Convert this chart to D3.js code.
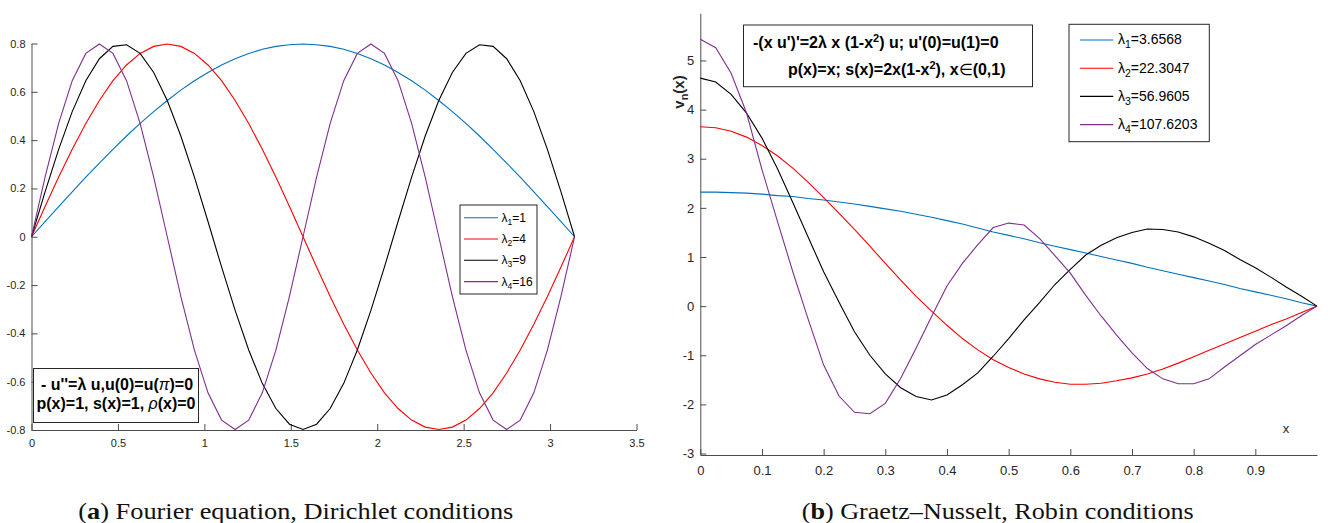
<!DOCTYPE html>
<html>
<head>
<meta charset="utf-8">
<script src="https://cdn.jsdelivr.net/npm/d3@7"></script>
<style>
  body { margin: 0; background: #fff; }
  svg { display: block; }
</style>
</head>
<body>
<div id="chart"></div>
<script>
// ---- data: (a) Fourier, Dirichlet ----
const xF = [0, 0.0785, 0.1571, 0.2356, 0.3142, 0.3927, 0.4712, 0.5498, 0.6283, 0.7069,
  0.7854, 0.8639, 0.9425, 1.0210, 1.0996, 1.1781, 1.2566, 1.3352, 1.4137, 1.4923,
  1.5708, 1.6493, 1.7279, 1.8064, 1.8850, 1.9635, 2.0420, 2.1206, 2.1991, 2.2777,
  2.3562, 2.4347, 2.5133, 2.5918, 2.6704, 2.7489, 2.8274, 2.9060, 2.9845, 3.0631, 3.1416];
const uF1 = [0, .063, .125, .186, .247, .305, .362, .417, .469, .518, .564, .607, .646, .680, .711, .737,
  .759, .776, .788, .795, .798, .795, .788, .776, .759, .737, .711, .680, .646, .607, .564, .518,
  .469, .417, .362, .305, .247, .186, .125, .063, 0];
const uF2 = [0, .125, .247, .362, .469, .564, .646, .711, .759, .788, .798, .788, .759, .711, .646, .564,
  .469, .362, .247, .125, 0, -.125, -.247, -.362, -.469, -.564, -.646, -.711, -.759, -.788, -.798,
  -.788, -.759, -.711, -.646, -.564, -.469, -.362, -.247, -.125, 0];
const uF3 = [0, .186, .362, .518, .646, .737, .788, .795, .759, .680, .564, .417, .247, .063, -.125, -.305,
  -.469, -.607, -.711, -.776, -.798, -.776, -.711, -.607, -.469, -.305, -.125, .063, .247, .417, .564,
  .680, .759, .795, .788, .737, .646, .518, .362, .186, 0];
const uF4 = [0, .247, .469, .646, .759, .798, .759, .646, .469, .247, 0, -.247, -.469, -.646, -.759, -.798,
  -.759, -.646, -.469, -.247, 0, .247, .469, .646, .759, .798, .759, .646, .469, .247, 0, -.247,
  -.469, -.646, -.759, -.798, -.759, -.646, -.469, -.247, 0];
const labelsF = ["1", "4", "9", "16"];
const xTicksF = [0, 0.5, 1, 1.5, 2, 2.5, 3, 3.5];
const yTicksF = [0.8, 0.6, 0.4, 0.2, 0, -0.2, -0.4, -0.6, -0.8];

// ---- data: (b) Graetz-Nusselt, Robin ----
const xG = [0, 0.025, 0.05, 0.075, 0.1, 0.125, 0.15, 0.175, 0.2, 0.225, 0.25, 0.275, 0.3, 0.325,
  0.35, 0.375, 0.4, 0.425, 0.45, 0.475, 0.5, 0.525, 0.55, 0.575, 0.6, 0.625, 0.65, 0.675, 0.7,
  0.725, 0.75, 0.775, 0.8, 0.825, 0.85, 0.875, 0.9, 0.925, 0.95, 0.975, 1];
const vG1 = [2.32, 2.32, 2.31, 2.30, 2.28, 2.25, 2.23, 2.19, 2.16, 2.12, 2.08, 2.03, 1.98, 1.93, 1.87,
  1.81, 1.74, 1.67, 1.59, 1.51, 1.44, 1.37, 1.29, 1.22, 1.15, 1.08, 1.01, 0.94, 0.87, 0.79, 0.72,
  0.65, 0.58, 0.51, 0.44, 0.36, 0.29, 0.22, 0.15, 0.07, 0];
const vG2 = [3.65, 3.63, 3.56, 3.44, 3.27, 3.06, 2.81, 2.52, 2.21, 1.89, 1.56, 1.22, 0.87, 0.53, 0.20,
  -0.10, -0.39, -0.66, -0.89, -1.09, -1.25, -1.38, -1.48, -1.55, -1.59, -1.59, -1.57, -1.52, -1.46,
  -1.38, -1.28, -1.16, -1.03, -0.90, -0.77, -0.64, -0.51, -0.38, -0.26, -0.13, 0];
const vG3 = [4.64, 4.56, 4.31, 3.93, 3.42, 2.80, 2.11, 1.40, 0.70, 0.08, -0.52, -1.00, -1.38, -1.66,
  -1.84, -1.91, -1.81, -1.60, -1.36, -1.02, -0.66, -0.28, 0.07, 0.44, 0.75, 1.04, 1.24, 1.39, 1.50,
  1.57, 1.56, 1.51, 1.41, 1.28, 1.13, 0.95, 0.78, 0.59, 0.39, 0.20, 0];
const vG4 = [5.43, 5.26, 4.74, 3.93, 2.78, 1.73, 0.70, -0.27, -1.20, -1.83, -2.16, -2.19, -1.98, -1.47,
  -0.85, -0.21, 0.41, 0.87, 1.25, 1.60, 1.69, 1.65, 1.38, 1.03, 0.67, 0.22, -0.20, -0.59, -0.95,
  -1.27, -1.48, -1.58, -1.58, -1.48, -1.24, -1.01, -0.78, -0.59, -0.40, -0.19, 0];
const labelsG = ["3.6568", "22.3047", "56.9605", "107.6203"];
const xTicksG = [0, 0.1, 0.2, 0.3, 0.4, 0.5, 0.6, 0.7, 0.8, 0.9];
const yTicksG = [-3, -2, -1, 0, 1, 2, 3, 4, 5];

const colors = ["#0072bd", "#ff0000", "#000000", "#7e2f8e"];
const sans = "'Liberation Sans', Arial, Helvetica, sans-serif";
const axisGray = "#4d4d4d";
const tickText = "#262626";

const svg = d3.select("#chart")
  .append("svg")
  .attr("width", 1330)
  .attr("height", 523);

// style helper for MATLAB-like axes
function styleAxis(g, fs) {
  g.attr("font-family", null).attr("font-size", null);
  g.select(".domain").attr("stroke", axisGray).attr("stroke-width", 1);
  g.selectAll(".tick line").attr("stroke", axisGray).attr("stroke-width", 1);
  g.selectAll(".tick text")
    .attr("fill", tickText)
    .style("font-family", sans)
    .style("font-size", fs + "px");
}

const fmt = d => String(+d.toFixed(2));

// =============== panel (a) ===============
const xa = d3.scaleLinear().domain([0, 3.5]).range([31.5, 636.5]);
const ya = d3.scaleLinear().domain([-0.8, 0.8]).range([430, 43.5]);

svg.append("g")
  .attr("transform", "translate(0,430)")
  .call(d3.axisBottom(xa).tickValues(xTicksF).tickFormat(fmt)
    .tickSizeInner(-6).tickSizeOuter(0).tickPadding(9))
  .call(g => styleAxis(g, 11));

svg.append("g")
  .attr("transform", "translate(31.5,0)")
  .call(d3.axisLeft(ya).tickValues(yTicksF).tickFormat(fmt)
    .tickSizeInner(-6).tickSizeOuter(0).tickPadding(6))
  .call(g => styleAxis(g, 11));

const lineA = d3.line().x((d, i) => xa(xF[i])).y(d => ya(d));
[uF1, uF2, uF3, uF4].forEach((s, i) => {
  svg.append("path")
    .attr("d", lineA(s))
    .attr("fill", "none")
    .attr("stroke", colors[i])
    .attr("stroke-width", 1.1);
});

// legend (a)
const legA = svg.append("g").attr("transform", "translate(460,205)");
legA.append("rect")
  .attr("width", 77).attr("height", 89)
  .attr("fill", "#fff").attr("stroke", "#262626").attr("stroke-width", 1);
labelsF.forEach((lab, i) => {
  const cy = 12.7 + i * 21.3;
  legA.append("line")
    .attr("x1", 4).attr("x2", 38).attr("y1", cy).attr("y2", cy)
    .attr("stroke", colors[i]).attr("stroke-width", 1.1);
  const t = legA.append("text")
    .attr("x", 41.5).attr("y", cy + 4)
    .style("font-family", sans).style("font-size", "12px").attr("fill", "#000");
  t.append("tspan").text("λ");
  t.append("tspan").attr("dy", 3).style("font-size", "8.5px").text(i + 1);
  t.append("tspan").attr("dy", -3).text("=" + lab);
});

// annotation box (a)
const noteA = svg.append("g");
noteA.append("rect")
  .attr("x", 33.5).attr("y", 368.5).attr("width", 165).attr("height", 54)
  .attr("fill", "#fff").attr("stroke", "#262626").attr("stroke-width", 1);
const na1 = noteA.append("text")
  .attr("x", 117).attr("y", 389.5).attr("text-anchor", "middle")
  .style("font-family", sans).style("font-size", "16px").style("font-weight", "bold");
na1.append("tspan").text("- u''=λ u,u(0)=u(");
na1.append("tspan").style("font-style", "italic").style("font-weight", "normal").text("π");
na1.append("tspan").text(")=0");
const na2 = noteA.append("text")
  .attr("x", 116).attr("y", 409).attr("text-anchor", "middle")
  .style("font-family", sans).style("font-size", "16px").style("font-weight", "bold");
na2.append("tspan").text("p(x)=1, s(x)=1, ");
na2.append("tspan").style("font-style", "italic").style("font-weight", "normal").text("ρ");
na2.append("tspan").text("(x)=0");

// =============== panel (b) ===============
const xb = d3.scaleLinear().domain([0, 1]).range([700.3, 1317]);
const yb = d3.scaleLinear().domain([-3.03, 5.96]).range([455, 13.3]);

svg.append("g")
  .attr("transform", "translate(0,455)")
  .call(d3.axisBottom(xb).tickValues(xTicksG).tickFormat(fmt)
    .tickSizeInner(-6).tickSizeOuter(0).tickPadding(11))
  .call(g => styleAxis(g, 13));

svg.append("g")
  .attr("transform", "translate(700.3,0)")
  .call(d3.axisLeft(yb).tickValues(yTicksG).tickFormat(fmt)
    .tickSizeInner(-6).tickSizeOuter(0).tickPadding(6))
  .call(g => styleAxis(g, 13));

const lineB = d3.line().x((d, i) => xb(xG[i])).y(d => yb(d));
[vG1, vG2, vG3, vG4].forEach((s, i) => {
  svg.append("path")
    .attr("d", lineB(s))
    .attr("fill", "none")
    .attr("stroke", colors[i])
    .attr("stroke-width", 1.1);
});

// axis labels (b)
svg.append("text")
  .attr("x", 1286).attr("y", 433).attr("text-anchor", "middle")
  .style("font-family", sans).style("font-size", "13px").attr("fill", tickText)
  .text("x");

const yl = svg.append("text")
  .attr("transform", "translate(684,92) rotate(-90)")
  .attr("text-anchor", "middle")
  .style("font-family", sans).style("font-size", "15px").style("font-weight", "bold")
  .attr("fill", tickText);
yl.append("tspan").text("v");
yl.append("tspan").attr("dy", 4).style("font-size", "11px").text("n");
yl.append("tspan").attr("dy", -4).text("(x)");

// legend (b)
const legB = svg.append("g").attr("transform", "translate(1069,24.3)");
legB.append("rect")
  .attr("width", 140.3).attr("height", 117.4)
  .attr("fill", "#fff").attr("stroke", "#262626").attr("stroke-width", 1);
labelsG.forEach((lab, i) => {
  const cy = 15.7 + i * 28.2;
  legB.append("line")
    .attr("x1", 11).attr("x2", 44.3).attr("y1", cy).attr("y2", cy)
    .attr("stroke", colors[i]).attr("stroke-width", 1.1);
  const t = legB.append("text")
    .attr("x", 49).attr("y", cy + 4.5)
    .style("font-family", sans).style("font-size", "14px").attr("fill", "#000");
  t.append("tspan").text("λ");
  t.append("tspan").attr("dy", 4).style("font-size", "10.5px").text(i + 1);
  t.append("tspan").attr("dy", -4).text("=" + lab);
});

// annotation box (b)
const noteB = svg.append("g");
noteB.append("rect")
  .attr("x", 743.5).attr("y", 25).attr("width", 289).attr("height", 61.7)
  .attr("fill", "#fff").attr("stroke", "#262626").attr("stroke-width", 1);
const nb1 = noteB.append("text")
  .attr("x", 753).attr("y", 48)
  .style("font-family", sans).style("font-size", "16px").style("font-weight", "bold");
nb1.append("tspan").text("-(x u')'=2λ x (1-x");
nb1.append("tspan").attr("dy", -6).style("font-size", "11px").text("2");
nb1.append("tspan").attr("dy", 6).text(") u; u'(0)=u(1)=0");
const nb2 = noteB.append("text")
  .attr("x", 788).attr("y", 74.5)
  .style("font-family", sans).style("font-size", "16px").style("font-weight", "bold");
nb2.append("tspan").text("p(x)=x; s(x)=2x(1-x");
nb2.append("tspan").attr("dy", -6).style("font-size", "11px").text("2");
nb2.append("tspan").attr("dy", 6).text("), x");
nb2.append("tspan").style("font-weight", "normal").text("∈");
nb2.append("tspan").text("(0,1)");

// =============== captions ===============
const serif = "'Liberation Serif', 'DejaVu Serif', serif";
const capA = svg.append("text")
  .attr("x", 78.3).attr("y", 519)
  .attr("textLength", 435).attr("lengthAdjust", "spacingAndGlyphs")
  .style("font-family", serif).style("font-size", "24px").attr("fill", "#111");
capA.append("tspan").text("(");
capA.append("tspan").style("font-weight", "bold").text("a");
capA.append("tspan").text(") Fourier equation, Dirichlet conditions");

const capB = svg.append("text")
  .attr("x", 801.7).attr("y", 519)
  .attr("textLength", 392).attr("lengthAdjust", "spacingAndGlyphs")
  .style("font-family", serif).style("font-size", "24px").attr("fill", "#111");
capB.append("tspan").text("(");
capB.append("tspan").style("font-weight", "bold").text("b");
capB.append("tspan").text(") Graetz–Nusselt, Robin conditions");
</script>
</body>
</html>
